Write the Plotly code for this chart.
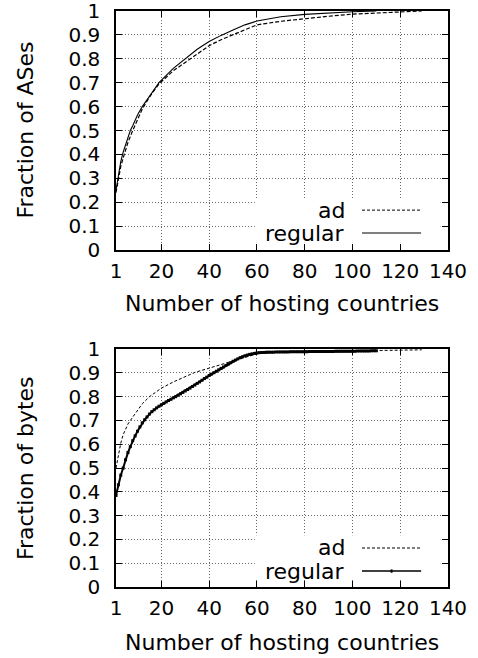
import plotly.graph_objects as go
from plotly.subplots import make_subplots

# ---------------- data ----------------
# Top panel: fraction of ASes vs number of hosting countries
top_ad_x = [1, 2, 3, 4, 5, 6, 8, 10, 12, 15, 19, 25, 32, 35, 40, 45, 50, 55, 60, 70, 80, 90, 100, 110, 120, 129]
top_ad_y = [0.24, 0.30, 0.35, 0.385, 0.42, 0.45, 0.50, 0.545, 0.59, 0.64, 0.695, 0.75, 0.80, 0.823, 0.855,
            0.88, 0.90, 0.92, 0.942, 0.957, 0.969, 0.978, 0.987, 0.993, 0.996, 1.0]
top_reg_x = [1, 2, 3, 4, 5, 6, 7, 8, 10, 12, 15, 19, 25, 30, 35, 40, 45, 50, 55, 60, 70, 80, 90, 100, 110]
top_reg_y = [0.25, 0.32, 0.37, 0.41, 0.44, 0.47, 0.50, 0.52, 0.565, 0.60, 0.645, 0.70, 0.76, 0.80, 0.84,
             0.872, 0.898, 0.92, 0.942, 0.958, 0.976, 0.986, 0.992, 0.997, 1.0]

# Bottom panel: fraction of bytes vs number of hosting countries
bot_ad_x = [1, 2, 3, 4, 5, 6, 7, 8, 10, 12, 15, 20, 25, 30, 34, 40, 45, 50, 55, 60, 65, 70, 80, 90, 100, 110, 120, 129]
bot_ad_y = [0.50, 0.56, 0.605, 0.64, 0.665, 0.685, 0.70, 0.715, 0.745, 0.77, 0.80, 0.836, 0.862, 0.886, 0.902,
            0.92, 0.935, 0.95, 0.966, 0.98, 0.986, 0.988, 0.99, 0.991, 0.992, 0.993, 0.995, 0.997]
bot_reg_x = list(range(1, 111))
bot_reg_y = [0.385, 0.43, 0.47, 0.50, 0.535, 0.565, 0.59, 0.615, 0.635, 0.655,
             0.673, 0.69, 0.703, 0.715, 0.727, 0.737, 0.745, 0.753, 0.76, 0.766,
             0.772, 0.778, 0.784, 0.789, 0.795, 0.80, 0.806, 0.812, 0.818, 0.824,
             0.83, 0.836, 0.843, 0.849, 0.856, 0.862, 0.869, 0.876, 0.882, 0.889,
             0.895, 0.901, 0.907, 0.913, 0.919, 0.925, 0.931, 0.937, 0.943, 0.949,
             0.954, 0.959, 0.964, 0.968, 0.972, 0.975, 0.978, 0.98, 0.982, 0.984,
             0.985, 0.986, 0.986, 0.987, 0.987, 0.987, 0.987, 0.988, 0.988, 0.988,
             0.988, 0.988, 0.988, 0.989, 0.989, 0.989, 0.989, 0.989, 0.989, 0.989,
             0.989, 0.99, 0.99, 0.99, 0.99, 0.99, 0.99, 0.99, 0.99, 0.99,
             0.99, 0.99, 0.991, 0.991, 0.991, 0.991, 0.991, 0.991, 0.991, 0.991,
             0.991, 0.992, 0.992, 0.992, 0.992, 0.992, 0.992, 0.993, 0.993, 0.993]

x_ticks = [1, 20, 40, 60, 80, 100, 120, 140]
y_ticks = [0, 0.1, 0.2, 0.3, 0.4, 0.5, 0.6, 0.7, 0.8, 0.9, 1]
y_tick_text = ["0", "0.1", "0.2", "0.3", "0.4", "0.5", "0.6", "0.7", "0.8", "0.9", "1"]
series_names = ["ad", "regular"]
x_title = "Number of hosting countries"
y_titles = ["Fraction of ASes", "Fraction of bytes"]

FONT = "DejaVu Sans"
TICK_SIZE = 20
TITLE_SIZE = 22

fig = make_subplots(rows=2, cols=1, vertical_spacing=0.172)

fig.add_trace(go.Scatter(x=top_ad_x, y=top_ad_y, mode="lines", name="ad",
                         line=dict(color="black", width=1.2, dash="4px,2px")), row=1, col=1)
fig.add_trace(go.Scatter(x=top_reg_x, y=top_reg_y, mode="lines", name="regular",
                         line=dict(color="black", width=1.1)), row=1, col=1)
fig.add_trace(go.Scatter(x=bot_ad_x, y=bot_ad_y, mode="lines", name="ad",
                         line=dict(color="black", width=1, dash="3px,2px")), row=2, col=1)
fig.add_trace(go.Scatter(x=bot_reg_x, y=bot_reg_y, mode="lines+markers", name="regular",
                         line=dict(color="black", width=2),
                         marker=dict(symbol="square", size=3, color="black")), row=2, col=1)

axis_common = dict(showline=True, linecolor="black", linewidth=1.5, mirror="ticks",
                   ticks="inside", ticklen=6, tickwidth=1, tickcolor="black", automargin=False,
                   ticklabeloverflow="allow",
                   showgrid=True, gridcolor="#6a6a6a", griddash="1px,2px", gridwidth=1,
                   zeroline=False, tickfont=dict(family=FONT, size=TICK_SIZE, color="black"))

for r in (1, 2):
    fig.update_xaxes(range=[1, 140], tickvals=x_ticks, ticklabelstandoff=2, **axis_common, row=r, col=1)
    fig.update_yaxes(range=[0, 1], tickvals=y_ticks, ticktext=y_tick_text, ticklabelstandoff=10,
                     **axis_common, row=r, col=1)

shapes = []
annotations = []
legend_rows = [(0.167, 0.071), (0.164, 0.067)]
for i, (xr, yr) in enumerate([("x", "y"), ("x2", "y2")]):
    xd, yd = f"{xr} domain", f"{yr} domain"
    # white legend background box (hides the grid)
    shapes.append(dict(type="rect", xref=xd, yref=yd, x0=0.418, x1=0.978, y0=0.03, y1=0.218,
                       fillcolor="white", line=dict(width=0), layer="above"))
    y_ad, y_reg = legend_rows[i]
    for name, yy in zip(series_names, (y_ad, y_reg)):
        annotations.append(dict(text=name, xref=xd, yref=yd, x=0.697, y=yy, xanchor="right",
                                yanchor="middle", showarrow=False,
                                font=dict(family=FONT, size=TITLE_SIZE, color="black")))
    shapes.append(dict(type="line", xref=xd, yref=yd, x0=0.741, x1=0.919, y0=y_ad, y1=y_ad,
                       line=dict(color="black", width=1, dash="3px,2px")))
    shapes.append(dict(type="line", xref=xd, yref=yd, x0=0.741, x1=0.919, y0=y_reg, y1=y_reg,
                       line=dict(color="black", width=1.1 if i == 0 else 1.5)))
    if i == 1:
        shapes.append(dict(type="rect", xref=xd, yref=yd, x0=0.827, x1=0.833,
                           y0=y_reg - 0.007, y1=y_reg + 0.007,
                           fillcolor="black", line=dict(width=0)))

# axis titles
annotations.append(dict(text=x_title, xref="paper", yref="paper", x=0.5, y=0.493, xanchor="center",
                        yanchor="middle", showarrow=False, font=dict(family=FONT, size=TITLE_SIZE, color="black")))
annotations.append(dict(text=x_title, xref="paper", yref="paper", x=0.5, y=-0.097, xanchor="center",
                        yanchor="middle", showarrow=False, font=dict(family=FONT, size=TITLE_SIZE, color="black")))
annotations.append(dict(text=y_titles[0], xref="paper", yref="paper", x=-0.274, y=0.7925, xanchor="center",
                        yanchor="middle", textangle=-90, showarrow=False,
                        font=dict(family=FONT, size=TITLE_SIZE, color="black")))
annotations.append(dict(text=y_titles[1], xref="paper", yref="paper", x=-0.274, y=0.2065, xanchor="center",
                        yanchor="middle", textangle=-90, showarrow=False,
                        font=dict(family=FONT, size=TITLE_SIZE, color="black")))

fig.update_layout(width=478, height=658, margin=dict(l=116, r=30, t=11, b=71, autoexpand=False),
                  paper_bgcolor="white", plot_bgcolor="white", showlegend=False,
                  hovermode=False,
                  shapes=shapes, annotations=annotations,
                  font=dict(family=FONT, color="black"))
fig.update_yaxes(domain=[0.585, 1.0], row=1, col=1)
fig.update_yaxes(domain=[0.0, 0.413], row=2, col=1)

# remove the default page margin so the figure sits at the window's top-left corner
fig.write_html("out.html", config={"displayModeBar": False},
               post_script="document.body.style.margin='0';")
